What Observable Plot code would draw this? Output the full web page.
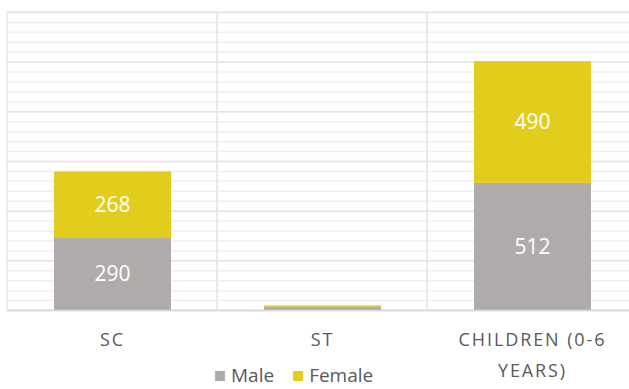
<!DOCTYPE html>
<html>
<head>
<meta charset="utf-8">
<script src="https://cdn.jsdelivr.net/npm/d3@7"></script>
<script src="https://cdn.jsdelivr.net/npm/@observablehq/plot@0.6"></script>
<style>
  html, body { margin: 0; padding: 0; background: #fff; }
  #chart { position: relative; width: 629px; height: 389px; overflow: hidden; }
  #chart svg g[aria-label="x-axis tick label"] text { letter-spacing: 1.9px; }
  #legend { position: absolute; left: 215px; top: 362px; font-family: "Open Sans", sans-serif; font-size: 19px; color: #595959; display: flex; align-items: center; }
  #legend .item { display: flex; align-items: center; margin-right: 19px; }
  #legend .sw { width: 10px; height: 10px; margin-right: 6px; margin-top: 2px; }
</style>
</head>
<body>
<div id="chart"></div>
<script>
const categories = ["SC", "ST", "CHILDREN (0-6 YEARS)"];
const series = ["Male", "Female"];
const maleValues = [290, 13, 512];
const femaleValues = [268, 6, 490];
const colors = ["#AFABAB", "#E2CC1C"];

const data = [];
categories.forEach((c, i) => {
  data.push({category: c, series: "Male", value: maleValues[i]});
  data.push({category: c, series: "Female", value: femaleValues[i]});
});

const minorTicks = d3.range(0, 1201, 40);
const majorTicks = d3.range(0, 1201, 200);

const plot = Plot.plot({
  width: 629,
  height: 389,
  marginTop: 12,
  marginBottom: 79,
  marginLeft: 7,
  marginRight: 0,
  style: {background: "#fff"},
  x: {domain: categories, range: [7, 637], padding: 0, label: null},
  y: {domain: [0, 1200], axis: null},
  color: {domain: series, range: colors},
  marks: [
    Plot.ruleY(minorTicks, {stroke: "#efefef", strokeWidth: 1.5}),
    Plot.ruleY(majorTicks, {stroke: "#e3e3e3", strokeWidth: 1.5}),
    Plot.cell(categories, {x: d => d, fill: "none", stroke: "#e8e8e8", strokeWidth: 1.5}),
    Plot.barY(data, Plot.stackY({x: "category", y: "value", fill: "series", insetLeft: 47, insetRight: 46})),
    Plot.ruleY([0], {stroke: "#d9d9d9", strokeWidth: 1.5}),
    Plot.text(data.filter(d => d.value > 50), Plot.stackY({
      x: "category", y: "value", z: "series", text: d => String(d.value),
      fill: "white", fontSize: 21, fontFamily: "Open Sans"
    })),
    Plot.axisX({
      tickSize: 0, tickPadding: 14, fontSize: 18, fill: "#595959",
      fontFamily: "Open Sans", lineHeight: 1.72, textAnchor: "middle", lineAnchor: "top",
      tickFormat: d => d.replace(/ (?=YEARS)/, "\n")
    })
  ]
});

const chart = document.getElementById("chart");
chart.appendChild(plot);

const legend = document.createElement("div");
legend.id = "legend";
series.forEach((s, i) => {
  const item = document.createElement("div");
  item.className = "item";
  const sw = document.createElement("span");
  sw.className = "sw";
  sw.style.background = colors[i];
  const t = document.createElement("span");
  t.textContent = s;
  item.appendChild(sw);
  item.appendChild(t);
  legend.appendChild(item);
});
chart.appendChild(legend);
</script>
</body>
</html>
